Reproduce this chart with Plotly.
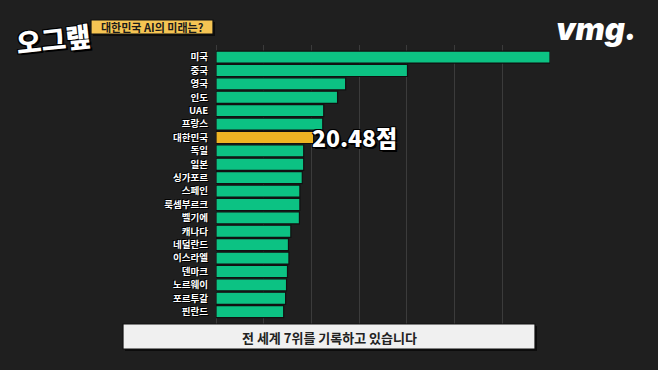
import plotly.graph_objects as go

countries = ["미국", "중국", "영국", "인도", "UAE", "프랑스", "대한민국", "독일", "일본", "싱가포르",
             "스페인", "룩셈부르크", "벨기에", "캐나다", "네덜란드", "이스라엘", "덴마크", "노르웨이",
             "포르투갈", "핀란드"]
scores = [70.06, 40.17, 27.2, 25.5, 22.6, 22.4, 20.48, 18.4, 18.4, 18.1,
          17.6, 17.6, 17.5, 15.7, 15.2, 15.3, 15.0, 14.8, 14.6, 14.2]
highlight = "대한민국"
highlight_label = "20.48점"
title_text = "대한민국 AI의 미래는?"
caption_text = "전 세계 7위를 기록하고 있습니다"
logo_text = "오그랲"
brand_text = "vmg."

GREEN = "#0cc283"
YELLOW = "#efb423"
BG = "#1f1f1f"
GRID = "#3b3b3b"

colors = [YELLOW if c == highlight else GREEN for c in countries]

fig = go.Figure()
fig.add_trace(go.Bar(
    x=scores, y=countries, orientation="h",
    marker=dict(color=colors, line=dict(color="#111111", width=1.2)),
    hoverinfo="skip",
))

W, H = 658, 370
L, R, T, B = 216, 108, 45, 46
pw, ph = W - L - R, H - T - B

def px_x(px):
    return (px - L) / pw

def px_y(py):
    return (H - B - py) / ph

fig.update_layout(
    width=W, height=H,
    margin=dict(l=L, r=R, t=T, b=B, pad=0),
    paper_bgcolor=BG, plot_bgcolor=BG,
    showlegend=False,
    bargap=0.1,
    xaxis=dict(range=[0, 70.06], dtick=10, showgrid=True, gridcolor=GRID, gridwidth=1,
               zeroline=True, zerolinecolor=GRID, zerolinewidth=1,
               showticklabels=False, ticks="", showline=False, fixedrange=True),
    yaxis=dict(type="category", range=[19.92, -0.9], showgrid=False, ticks="",
               ticklabelstandoff=7, showline=False, fixedrange=True,
               tickfont=dict(family="Noto Sans CJK KR", size=9.5, color="white", weight="bold",
                             shadow="1px 1px 0px #000, -1px -1px 0px #000")),
    font=dict(family="Noto Sans CJK KR"),
)

shapes = []
# title box shadow and box
shapes.append(dict(type="rect", xref="paper", yref="paper",
                   x0=px_x(93), x1=px_x(215), y0=px_y(36), y1=px_y(22),
                   fillcolor="#0c0c0c", line=dict(width=0), layer="above"))
shapes.append(dict(type="rect", xref="paper", yref="paper",
                   x0=px_x(91), x1=px_x(213), y0=px_y(34), y1=px_y(20),
                   fillcolor="#f5c453", line=dict(color="#111111", width=1.2), layer="above"))
# caption box shadow and box
shapes.append(dict(type="rect", xref="paper", yref="paper",
                   x0=px_x(125), x1=px_x(537), y0=px_y(351), y1=px_y(326),
                   fillcolor="#0c0c0c", line=dict(width=0), layer="above"))
shapes.append(dict(type="rect", xref="paper", yref="paper",
                   x0=px_x(123), x1=px_x(535), y0=px_y(349), y1=px_y(324),
                   fillcolor="#f0f0f0", line=dict(color="#111111", width=1.2), layer="above"))
fig.update_layout(shapes=shapes)

outline = "2px 2px 0px #000, -1px -1px 0px #000, 1px -1px 0px #000, -1px 1px 0px #000"
annotations = [
    dict(text=title_text, xref="paper", yref="paper", x=px_x(152), y=px_y(27.5),
         showarrow=False, xanchor="center", yanchor="middle",
         font=dict(family="Noto Sans CJK KR", size=11, color="#1a1a1a", weight="bold")),
    dict(text=caption_text, xref="paper", yref="paper", x=px_x(329), y=px_y(337),
         showarrow=False, xanchor="center", yanchor="middle",
         font=dict(family="Noto Sans CJK KR", size=13, color="#222222", weight="bold")),
    dict(text=highlight_label, x=scores[countries.index(highlight)], y=highlight,
         xref="x", yref="y", showarrow=False, xanchor="left", yanchor="middle", xshift=-4,
         font=dict(family="Noto Sans CJK KR", size=23, color="white", weight=900, shadow=outline)),
    dict(text=logo_text, xref="paper", yref="paper", x=px_x(53), y=px_y(38),
         showarrow=False, xanchor="center", yanchor="middle", textangle=-6,
         font=dict(family="Noto Sans CJK KR", size=27, color="white", weight=900, shadow=outline)),
    dict(text=brand_text, xref="paper", yref="paper", x=px_x(596), y=px_y(29),
         showarrow=False, xanchor="center", yanchor="middle",
         font=dict(family="Inter", size=31, color="white", weight=900, style="italic")),
]
fig.update_layout(annotations=annotations)

fig.write_html("out.html", config={"displayModeBar": False, "staticPlot": True},
               post_script="document.body.style.margin='0';document.body.style.background='%s';" % BG)
